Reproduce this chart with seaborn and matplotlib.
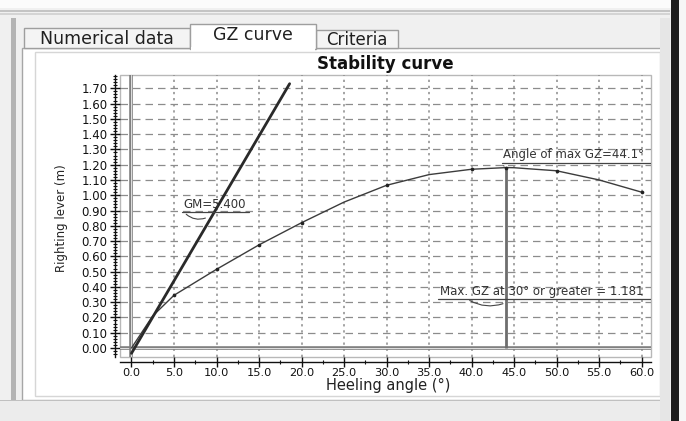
import numpy as np
import pandas as pd
import matplotlib
matplotlib.use("Agg")
import matplotlib.pyplot as plt
import seaborn as sns
from matplotlib.patches import Rectangle
from matplotlib.ticker import MultipleLocator, AutoMinorLocator, FormatStrFormatter

# ---------------- data ----------------
heel_angles = [0, 2.5, 5, 10, 15, 20, 25, 30, 35, 40, 44.1, 45, 50, 55, 60]
gz_values = [0.0, 0.21, 0.345, 0.515, 0.675, 0.82, 0.955, 1.065, 1.135, 1.17, 1.181, 1.18, 1.16, 1.10, 1.02]
marker_angles = [5, 10, 15, 20, 30, 40, 44.1, 50, 60]
marker_gz = [0.345, 0.515, 0.675, 0.82, 1.065, 1.17, 1.181, 1.16, 1.02]
gm_line_angles = [0.0, 18.6]
gm_line_gz = [-0.035, 1.73]
gm_label = "GM=5.400"
max_gz_angle = 44.1
max_gz = 1.181
max_angle_label = "Angle of max GZ=44.1°"
max_gz_label = "Max. GZ at 30° or greater = 1.181"
y_ticks = [0.0, 0.1, 0.2, 0.3, 0.4, 0.5, 0.6, 0.7, 0.8, 0.9, 1.0, 1.1, 1.2, 1.3, 1.4, 1.5, 1.6, 1.7]
x_ticks = [0, 5, 10, 15, 20, 25, 30, 35, 40, 45, 50, 55, 60]
tab_labels = ["Numerical data", "GZ curve", "Criteria"]
title = "Stability curve"
x_label = "Heeling angle (°)"
y_label = "Righting lever (m)"

curve = pd.DataFrame({"angle": heel_angles, "gz": gz_values})
markers = pd.DataFrame({"angle": marker_angles, "gz": marker_gz})
gm_df = pd.DataFrame({"angle": gm_line_angles, "gz": gm_line_gz})

sns.set_style("white")
plt.rcParams["font.family"] = ["DejaVu Sans"]

W, H = 686, 421
fig = plt.figure(figsize=(W / 100, H / 100), dpi=100)
fig.patch.set_facecolor("#f0f0f0")


def fx(x):
    return x / W


def fy(y):
    return 1 - y / H


def rect(x0, y0, x1, y1, fc, ec="none", lw=1.0, z=-5):
    r = Rectangle((fx(x0), fy(y1)), fx(x1) - fx(x0), fy(y0) - fy(y1),
                  transform=fig.transFigure, facecolor=fc, edgecolor=ec,
                  linewidth=lw, zorder=z)
    fig.add_artist(r)


# ---------------- window chrome ----------------
rect(0, 0, 686, 8, "#fbfbfb")
rect(0, 10, 670, 11.5, "#c4c4c4")
rect(0, 13.5, 670, 15, "#d4d4d4")
rect(11, 18, 16, 400, "#b4b4b4")
rect(22, 48, 668, 400, "#ffffff", "#a6a6a6", 1.0)
rect(35, 52, 660, 396, "#ffffff", "#d6d6d6", 1.0)
rect(0, 400, 670, 421, "#ececec")
rect(0, 399.5, 670, 401, "#c0c0c0")
rect(660, 18, 670, 421, "#e6e6e6")
rect(671, 0, 679, 421, "#1e1e1e")
rect(679, 0, 686, 421, "#f6f6f6")

# tabs
rect(24, 28, 190, 48, "#f4f4f4", "#9e9e9e", 1.0, z=-4)
rect(316, 30, 398, 48, "#f4f4f4", "#9e9e9e", 1.0, z=-4)
rect(190, 24, 316, 49, "#ffffff", "#9e9e9e", 1.0, z=-3)
rect(191, 47, 315, 51, "#ffffff", z=-2)
fig.text(fx(107), fy(39), tab_labels[0], ha="center", va="center", fontsize=12.5, color="#202020")
fig.text(fx(253), fy(35), tab_labels[1], ha="center", va="center", fontsize=12.5, color="#202020")
fig.text(fx(357), fy(40), tab_labels[2], ha="center", va="center", fontsize=12, color="#202020")

# ---------------- chart ----------------
ax_l, ax_t, ax_r, ax_b = 120, 75, 651, 357
ax = fig.add_axes([fx(ax_l), fy(ax_b), fx(ax_r) - fx(ax_l), fy(ax_t) - fy(ax_b)])
ax.set_facecolor("white")
ax.set_xlim(-1.35, 61.1)
ax.set_ylim(-0.059, 1.787)

ax.set_axisbelow(True)
ax.grid(axis="y", which="major", linestyle=(0, (6, 4)), color="#8c8c8c", lw=0.9)
ax.grid(axis="x", which="major", linestyle=(0, (1.5, 2.5)), color="#8c8c8c", lw=1.1)

# zero reference lines (double grey)
ax.axhline(0, color="#808080", lw=2.6, zorder=1)
ax.axhline(0, color="#e0e0e0", lw=0.7, zorder=1)
ax.axvline(0, color="#808080", lw=2.6, zorder=1)
ax.axvline(0, color="#e0e0e0", lw=0.7, zorder=1)

# GZ curve
sns.lineplot(data=curve, x="angle", y="gz", ax=ax, color="#3c3c3c", lw=1.0,
             sort=True, zorder=3, legend=False)
sns.scatterplot(data=markers, x="angle", y="gz", ax=ax, color="#222222", s=7,
                linewidth=0, zorder=4, legend=False)

# GM line
sns.lineplot(data=gm_df, x="angle", y="gz", ax=ax, color="#2a2a2a", lw=2.0,
             zorder=3, legend=False)

# vertical line at max GZ angle
ax.vlines(max_gz_angle, 0, max_gz, color="#6e6e6e", lw=2.0, zorder=2)

# annotations
ax.text(43.7, 1.222, max_angle_label, fontsize=8.5, ha="left", va="bottom", color="#333333", zorder=5)
ax.plot([43.6, 61.1], [1.212, 1.212], color="#444444", lw=0.9, zorder=5)
ax.annotate("", xy=(max_gz_angle, max_gz), xytext=(43.7, 1.212),
            arrowprops=dict(arrowstyle="-", color="#444444", lw=0.8,
                            connectionstyle="arc3,rad=0.4"), zorder=5)

ax.text(36.3, 0.33, max_gz_label, fontsize=8.5, ha="left", va="bottom", color="#333333", zorder=5)
ax.plot([36.1, 61.1], [0.32, 0.32], color="#444444", lw=0.9, zorder=5)
ax.annotate("", xy=(44.0, 0.296), xytext=(39.5, 0.32),
            arrowprops=dict(arrowstyle="-", color="#444444", lw=0.8,
                            connectionstyle="arc3,rad=0.25"), zorder=5)

ax.text(6.1, 0.895, gm_label, fontsize=8.5, ha="left", va="bottom", color="#333333", zorder=5)
ax.plot([6.0, 13.8], [0.888, 0.888], color="#444444", lw=0.9, zorder=5)
ax.annotate("", xy=(9.0, 0.857), xytext=(6.2, 0.888),
            arrowprops=dict(arrowstyle="-", color="#444444", lw=0.8,
                            connectionstyle="arc3,rad=0.35"), zorder=5)

# axes, ticks
ax.set_xticks(x_ticks)
ax.set_yticks(y_ticks)
ax.xaxis.set_major_formatter(FormatStrFormatter("%.1f"))
ax.yaxis.set_major_formatter(FormatStrFormatter("%.2f"))
ax.xaxis.set_minor_locator(AutoMinorLocator(2))
ax.yaxis.set_minor_locator(AutoMinorLocator(5))
ax.tick_params(which="major", direction="inout", length=7, width=1.0, color="#111111",
               labelsize=8.5, labelcolor="#111111", pad=2)
ax.tick_params(which="minor", direction="inout", length=3.5, width=0.8, color="#111111")
ax.tick_params(axis="x", which="major", labelsize=8.2, pad=0.5)
ax.tick_params(axis="x", which="both", bottom=True)
ax.tick_params(axis="y", which="both", left=True)

sns.despine(ax=ax, offset=3.6)
for side in ("left", "bottom"):
    ax.spines[side].set_color("#111111")
    ax.spines[side].set_linewidth(1.0)
ax.add_patch(Rectangle((0, 0), 1, 1, transform=ax.transAxes, fill=False,
                       edgecolor="#b8b8b8", lw=1.0, clip_on=False, zorder=0.5))

ax.set_title(title, fontsize=12, fontweight="bold", pad=4.0, color="#111111")
ax.set_xlabel(x_label, fontsize=10.5, color="#222222")
ax.set_ylabel(y_label, fontsize=8.5, color="#222222")
ax.xaxis.set_label_coords((388 - ax_l) / (ax_r - ax_l), -(377.5 - ax_b) / (ax_b - ax_t))
ax.yaxis.set_label_coords(-(120 - 68) / (ax_r - ax_l), (ax_b - 218) / (ax_b - ax_t))

fig.savefig("out.png", dpi=100, facecolor=fig.get_facecolor())
